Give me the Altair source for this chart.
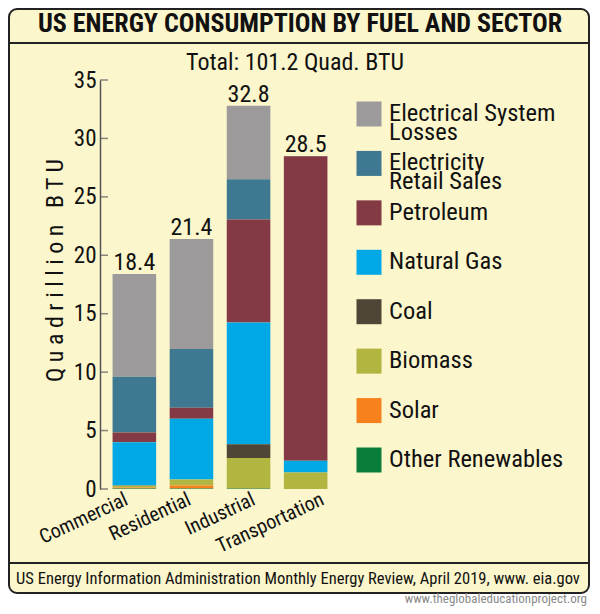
import altair as alt
import pandas as pd

sectors = ["Commercial", "Residential", "Industrial", "Transportation"]
fuels = ["Electrical System Losses", "Electricity Retail Sales", "Petroleum",
         "Natural Gas", "Coal", "Biomass", "Solar", "Other Renewables"]
legend_text = ["Electrical System|Losses", "Electricity|Retail Sales", "Petroleum",
               "Natural Gas", "Coal", "Biomass", "Solar", "Other Renewables"]
colors = ["#9c9a9b", "#3f7991", "#833a45", "#00a9e6", "#4f4637", "#b2b53f", "#f7821d", "#0b7d3a"]

losses = [8.80, 9.42, 6.30, 0.00]
retail = [4.76, 5.02, 3.43, 0.03]
petroleum = [0.84, 0.95, 8.82, 26.05]
natural_gas = [3.70, 5.19, 10.43, 1.00]
coal = [0.02, 0.00, 1.17, 0.00]
biomass = [0.15, 0.53, 2.58, 1.42]
solar = [0.08, 0.25, 0.02, 0.00]
other_renew = [0.05, 0.04, 0.05, 0.00]
totals = [18.4, 21.4, 32.8, 28.5]
y_ticks = [0, 5, 10, 15, 20, 25, 30, 35]

title_text = "US ENERGY CONSUMPTION BY FUEL AND SECTOR"
subtitle_text = "Total: 101.2 Quad. BTU"
y_title = "Q u a d r i l l i o n\u00a0\u00a0\u00a0B T U"
footer_text = "US Energy Information Administration Monthly Energy Review, April 2019, www. eia.gov"
url_text = "www.theglobaleducationproject.org"

FONT = "Roboto Condensed, Liberation Sans Narrow, Liberation Sans, sans-serif"
CREAM = "#fbf6cc"
INK = "#111111"

series = [losses, retail, petroleum, natural_gas, coal, biomass, solar, other_renew]
rows = []
for fi, (fuel, vals) in enumerate(zip(fuels, series)):
    for s, v in zip(sectors, vals):
        rows.append({"sector": s, "fuel": fuel, "value": v, "order": len(fuels) - 1 - fi})
df = pd.DataFrame(rows)
tot_df = pd.DataFrame({"sector": sectors, "total": totals, "label": [f"{t:.1f}" for t in totals]})
tick_df = pd.DataFrame({"t": y_ticks})
leg_df = pd.DataFrame({"fuel": fuels, "text": legend_text})
one = pd.DataFrame({"a": [0]})

label_offset = {
    "condition": [
        {"test": "datum.value == 'Commercial'", "value": -12},
        {"test": "datum.value == 'Residential'", "value": -6},
        {"test": "datum.value == 'Industrial'", "value": 1},
    ],
    "value": 13,
}

x_enc = alt.X("sector:N", sort=sectors,
              scale=alt.Scale(range=[0, 240], paddingInner=0.237, paddingOuter=0.22),
              axis=alt.Axis(orient="bottom", title=None, domain=False, ticks=False, labelAngle=335,
                            labelAlign="right", labelBaseline="top", labelFontSize=20,
                            labelFont=FONT, labelColor=INK, labelPadding=0,
                            labelOffset=label_offset, zindex=2))
y_scale = alt.Scale(domain=[0, 35], nice=False)

bars = alt.Chart(df).mark_bar().encode(
    x=x_enc,
    y=alt.Y("value:Q", stack="zero", scale=y_scale,
            axis=alt.Axis(orient="left", values=y_ticks, ticks=False, grid=False,
                          domainColor="#555555", zindex=2,
                          domainWidth=1.5, labelFontSize=23, labelFont=FONT, labelColor=INK,
                          labelPadding=4, title=y_title, titleFont=FONT, titleFontSize=24,
                          titleFontWeight="normal", titleColor=INK, titleAngle=270,
                          titleX=-45, titleY=190, titleAlign="center", titleBaseline="middle")),
    color=alt.Color("fuel:N", scale=alt.Scale(domain=fuels, range=colors), legend=None),
    order=alt.Order("order:Q", sort="ascending"),
)

ticks = alt.Chart(tick_df).mark_tick(orient="horizontal", size=8, thickness=1.5,
                                     color="#555555").encode(
    y=alt.Y("t:Q", scale=y_scale), x=alt.value(4))

tot_text = alt.Chart(tot_df).mark_text(dy=-4, baseline="alphabetic", fontSize=24,
                                       font=FONT, color=INK).encode(
    x=alt.X("sector:N", sort=sectors), y=alt.Y("total:Q", scale=y_scale), text="label:N")

main = alt.layer(bars, ticks, tot_text)

leg_y = alt.Y("fuel:N", sort=fuels, axis=None,
              scale=alt.Scale(type="point", range=[34, 380], padding=0))
leg_sq = alt.Chart(leg_df).mark_square(size=625, opacity=1).encode(
    x=alt.value(269), y=leg_y,
    color=alt.Color("fuel:N", scale=alt.Scale(domain=fuels, range=colors), legend=None))
leg_tx = alt.Chart(leg_df).mark_text(align="left", baseline="middle", fontSize=24.5, font=FONT,
                                     color=INK, lineBreak="|", lineHeight=19).encode(
    x=alt.value(289), y=leg_y, text="text:N")
legend = alt.layer(leg_sq, leg_tx)

frame = alt.Chart(one).mark_rect(fill=CREAM, stroke="#222222", strokeWidth=2,
                                 cornerRadius=8).encode(
    x=alt.value(-91), x2=alt.value(489), y=alt.value(-71), y2=alt.value(513))
band_line = alt.Chart(one).mark_rule(color="#222222", strokeWidth=2).encode(
    x=alt.value(-92), x2=alt.value(490), y=alt.value(-37))
foot_line = alt.Chart(one).mark_rule(color="#222222", strokeWidth=2).encode(
    x=alt.value(-92), x2=alt.value(490), y=alt.value(483))
title = alt.Chart(one).mark_text(text=title_text, fontSize=26, fontWeight="bold", font=FONT,
                                 color=INK, align="center", baseline="middle").encode(
    x=alt.value(200), y=alt.value(-56))
subtitle = alt.Chart(one).mark_text(text=subtitle_text, fontSize=24, font=FONT, color=INK,
                                    align="center", baseline="middle").encode(
    x=alt.value(195), y=alt.value(-17))
footer = alt.Chart(one).mark_text(text=footer_text, fontSize=16.5, font=FONT, color=INK,
                                  align="center", baseline="middle").encode(
    x=alt.value(198), y=alt.value(499))
url = alt.Chart(one).mark_text(text=url_text, fontSize=13, font=FONT, color="#8a8a8a",
                               align="right", baseline="middle").encode(
    x=alt.value(487), y=alt.value(519))

chart = alt.layer(frame, band_line, foot_line, title, subtitle, footer, url, main, legend).resolve_scale(
    x="independent", y="independent", color="independent"
).properties(
    width=490, height=409, autosize="none", background="white",
    padding={"left": 92, "top": 72, "right": 2, "bottom": 117},
).configure_view(stroke=None)

chart.save("out.html", embed_options={"renderer": "svg", "actions": False})
